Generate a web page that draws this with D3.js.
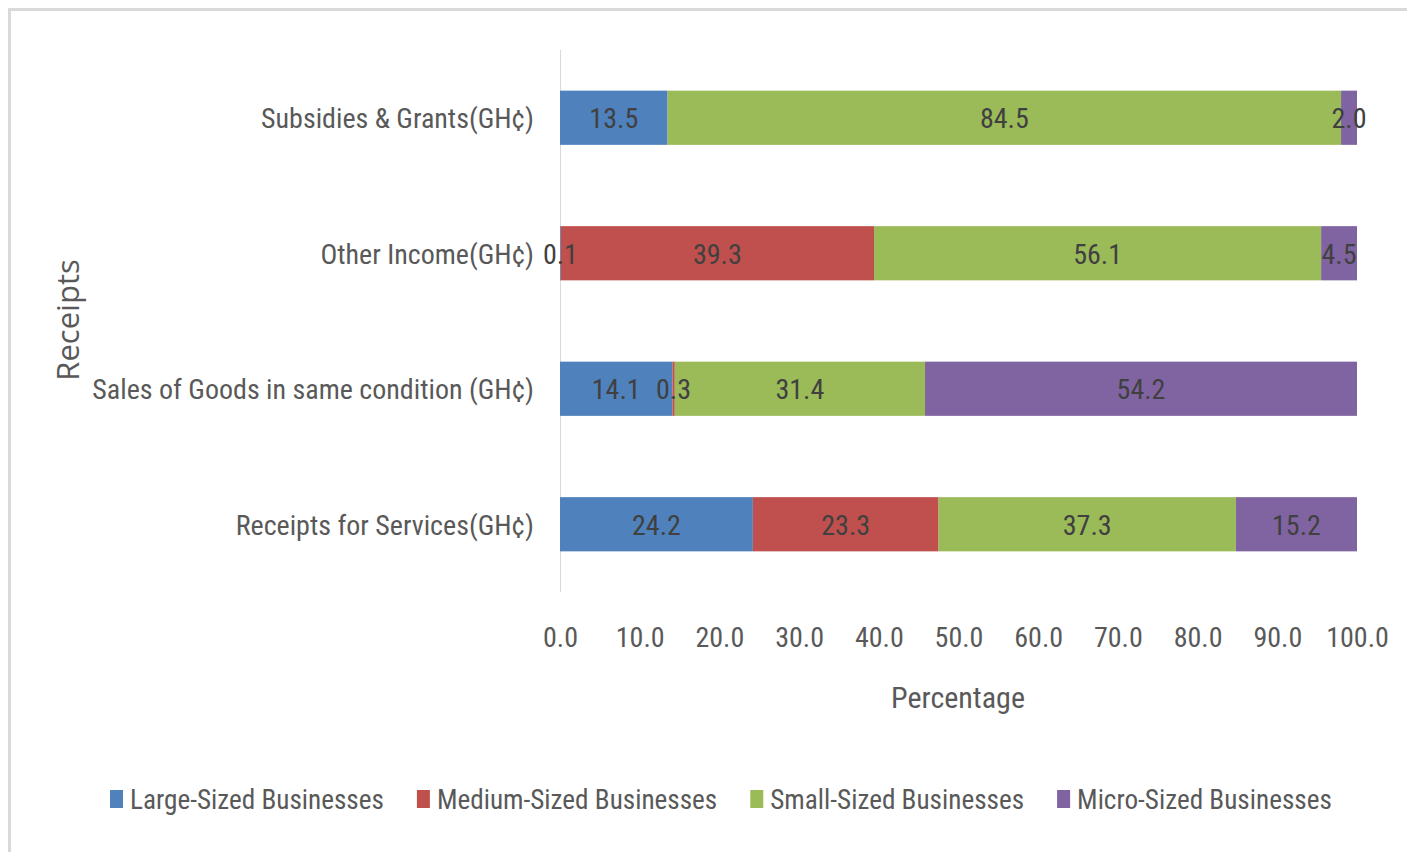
<!DOCTYPE html>
<html><head><meta charset="utf-8">
<script src="https://cdn.jsdelivr.net/npm/d3@7/dist/d3.min.js"></script>
<style>
html,body{margin:0;padding:0;background:#fff;}
svg text{font-family:"Liberation Sans Narrow","Roboto Condensed","Liberation Sans",sans-serif;}
</style></head>
<body><svg id="chart" width="1407" height="852"></svg>
<script>
const categories = ["Subsidies & Grants(GH¢)", "Other Income(GH¢)", "Sales of Goods in same condition (GH¢)", "Receipts for Services(GH¢)"];
const seriesNames = ["Large-Sized Businesses", "Medium-Sized Businesses", "Small-Sized Businesses", "Micro-Sized Businesses"];
const large  = [13.5, 0.1, 14.1, 24.2];
const medium = [0.0, 39.3, 0.3, 23.3];
const small  = [84.5, 56.1, 31.4, 37.3];
const micro  = [2.0, 4.5, 54.2, 15.2];
const xTicks = [0,10,20,30,40,50,60,70,80,90,100];
const colors = ["#4F81BD", "#C0504D", "#9BBB59", "#8064A2"];

const svg = d3.select("#chart");
svg.append("rect").attr("x",9.5).attr("y",9.5).attr("width",1440).attr("height",900)
  .attr("fill","none").attr("stroke","#d9d9d9").attr("stroke-width",3);

const rows = categories.map((c,i)=>({cat:c, [seriesNames[0]]:large[i], [seriesNames[1]]:medium[i], [seriesNames[2]]:small[i], [seriesNames[3]]:micro[i]}));
const stack = d3.stack().keys(seriesNames)(rows);

const x = d3.scaleLinear().domain([0,100]).range([560,1357]);
const y = d3.scaleBand().domain(categories).range([50,592]).paddingInner(0.6).paddingOuter(0.3);

svg.append("line").attr("x1",560.5).attr("x2",560.5).attr("y1",50).attr("y2",592)
  .attr("stroke","#d9d9d9").attr("stroke-width",1);

const g = svg.append("g");
stack.forEach((s,si)=>{
  g.selectAll(null).data(s).enter().append("rect")
    .attr("x",d=>x(d[0])).attr("width",d=>Math.max(0,x(d[1])-x(d[0])))
    .attr("y",d=>y(d.data.cat)).attr("height",y.bandwidth())
    .attr("fill",colors[si]);
});
stack.forEach((s,si)=>{
  g.selectAll(null).data(s.filter(d=>d[1]-d[0]>0)).enter().append("text")
    .attr("x",d=>(x(d[0])+x(d[1]))/2).attr("y",d=>y(d.data.cat)+y.bandwidth()/2)
    .attr("dy","0.38em").attr("text-anchor","middle")
    .attr("font-size",28).attr("fill","#404040")
    .text(d=>(d[1]-d[0]).toFixed(1));
});

svg.append("g").selectAll("text").data(categories).enter().append("text")
  .attr("x",534).attr("y",d=>y(d)+y.bandwidth()/2).attr("dy","0.38em")
  .attr("text-anchor","end").attr("font-size",28).attr("fill","#595959").text(d=>d);

const xAxis = d3.axisBottom(x).tickValues(xTicks).tickFormat(d3.format(".1f")).tickSize(0).tickPadding(0);
const ax = svg.append("g").attr("transform","translate(0,627)").call(xAxis);
ax.select(".domain").remove();
ax.selectAll("text").attr("font-size",28).attr("fill","#595959").attr("dy","0.71em")
  .style("font-family",'"Liberation Sans Narrow","Roboto Condensed",sans-serif');

svg.append("text").attr("x",958).attr("y",697).attr("dy","0.38em").attr("text-anchor","middle")
  .attr("font-size",30).attr("fill","#595959").text("Percentage");
svg.append("text").attr("transform","translate(68,320) rotate(-90)").attr("dy","0.35em")
  .attr("text-anchor","middle").attr("font-size",31).attr("fill","#595959")
  .style("font-family",'"Open Sans","Liberation Sans",sans-serif').text("Receipts");

const lg = svg.append("g");
let cx = 110;
seriesNames.forEach((n,i)=>{
  lg.append("rect").attr("x",cx).attr("y",790).attr("width",13).attr("height",18).attr("fill",colors[i]);
  const t = lg.append("text").attr("x",cx+20).attr("y",799).attr("dy","0.38em")
    .attr("font-size",27.2).attr("fill","#595959").text(n);
  cx += 20 + t.node().getComputedTextLength() + 33;
});
</script></body></html>
